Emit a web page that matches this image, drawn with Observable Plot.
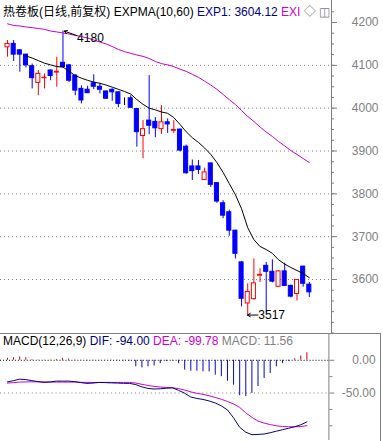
<!DOCTYPE html>
<html><head><meta charset="utf-8">
<script src="https://cdn.jsdelivr.net/npm/d3@7"></script>
<script src="https://cdn.jsdelivr.net/npm/@observablehq/plot@0.6"></script>
<style>
html,body{margin:0;padding:0;background:#fff;}
#wrap{position:relative;width:383px;height:441px;overflow:hidden;font-family:"Liberation Sans",Arial,"Noto Sans CJK SC",sans-serif;}
.hdr{position:absolute;left:3px;font-size:12px;line-height:14px;white-space:nowrap;color:#000;}
#main{position:absolute;left:0;top:0;}
#macd{position:absolute;left:0;top:333px;width:380px;height:107px;border-top:1px solid #808080;border-right:1px solid #808080;overflow:hidden;}
svg{display:block;}
</style></head><body>
<div id="wrap">
  <div id="main"></div>
  <div id="macd"></div>
  <div class="hdr" style="top:5px">热卷板(日线,前复权) EXPMA(10,60) <span style="color:#000080">EXP1: 3604.12</span> <span style="color:#cc00cc">EXI</span> <span style="color:#808080">◇</span> <span style="color:#808080">◫</span></div>
  <div class="hdr" style="top:334px">MACD(12,26,9) <span style="color:#000080">DIF: -94.00</span> <span style="color:#cc00cc">DEA: -99.78</span> <span style="color:#808080">MACD: 11.56</span></div>
</div>
<script>
// ---- data ----
const opens  = [4142,4150,4135,4125,4098,4059,4070,4088,4083,4106,4100,4076,4045,4043,4058,4050,4039,4043,4037,4014,4023,3998,3935,3971,3968,3951,3967,3947,3950,3910,3864,3864,3832,3871,3825,3778,3757,3714,3640,3544,3554,3609,3632,3618,3583,3619,3585,3566,3630,3588];
const highs  = [4158,4158,4137,4126,4103,4088,4080,4089,4119,4180,4101,4078,4052,4051,4078,4058,4040,4045,4038,4024,4029,3999,3971,4076,3978,4006,3975,3971,3951,3914,3879,3878,3860,3872,3826,3784,3762,3715,3642,3590,3648,3625,3640,3646,3621,3638,3587,3600,3631,3593];
const lows   = [4119,4109,4084,4094,4045,4029,4045,4064,4049,4094,4060,4029,4010,4034,4043,4033,4021,4016,4001,4006,4000,3909,3882,3938,3931,3939,3941,3941,3898,3846,3831,3845,3831,3815,3778,3742,3701,3648,3536,3517,3552,3593,3522,3592,3582,3584,3557,3550,3582,3558];
const closes = [4150,4125,4125,4100,4070,4080,4071,4075,4085,4096,4064,4041,4018,4035,4050,4043,4022,4037,4010,4014,4001,3944,3951,3959,3953,3967,3962,3949,3901,3848,3853,3856,3850,3821,3782,3749,3714,3660,3555,3571,3591,3611,3618,3595,3619,3585,3560,3599,3590,3570];
const exp1 = [null,null,null,4122,4117,4111,4105,4101,4097,4096,4086,4076,4070,4065,4061,4058,4054,4049,4044,4039,4033,4020,4009,4000,3996,3991,3988,3978,3962,3945,3931,3920,3907,3892,3873,3850,3824,3798,3765,3721,3693,3677,3670,3661,3646,3636,3628,3621,3614,3604.12];
const exp2 = [4197,4193,4192,4189.5,4188,4186,4184,4180,4178,4175.5,4173,4170,4167,4164,4159,4154.5,4150,4144,4137,4132,4128,4124,4121,4116,4109,4104,4101,4097,4091,4086,4079,4072,4063,4054,4044,4032,4020,4008.5,3994.5,3980.5,3969,3956,3944,3934,3922,3912,3901,3892,3882.5,3873];
const dif = [-32.9,-31.1,-28.8,-29.5,-31.1,-32.6,-33.8,-33,-31.8,-31.8,-31.8,-32.6,-34.1,-35.3,-34.8,-33.8,-34.1,-34.5,-34.8,-35.2,-35.3,-37.1,-40.6,-43,-43.9,-43.5,-42.7,-42.1,-45.9,-50.3,-56.1,-58.3,-59.8,-62.1,-65.2,-69.7,-75.8,-87.9,-102.3,-109.8,-113.6,-113.2,-112.6,-110.6,-108.3,-106.1,-103.8,-101.5,-98.5,-94.0];
const dea = [-34.8,-34.1,-33.3,-33,-32.9,-32.9,-33,-33.3,-33.3,-33.3,-33.3,-33.3,-33.6,-33.8,-33.8,-33.8,-33.8,-33.8,-33.8,-33.8,-33.8,-34.8,-36.7,-38.5,-39.8,-40.9,-41.5,-42,-43.2,-45.5,-48.2,-50.5,-52,-54.2,-56.8,-59.5,-62.9,-66.7,-72,-80.3,-87.1,-92.9,-95.9,-98.2,-100,-101.1,-101.5,-101.5,-101.2,-99.78];
const macdHist = [3,4,5,4,1,0.5,0.3,0.5,1.5,3,2,0.5,-0.3,-0.5,-0.3,0.2,-0.2,-0.3,-0.5,-0.8,-1,-10,-11.6,-10,-8.6,-5,-2,-1,-5,-15,-16.7,-16.7,-17.7,-17.7,-22.7,-25,-32,-38,-54,-55.5,-50.5,-40,-27.8,-20,-10,-5,-1.5,2.5,6.6,11.56];
const priceTicks = [3600,3700,3800,3900,4000,4100,4200];
const priceGrid = [3600,3700,3800,3900,4000,4100];
const priceMinor = d3.range(3475, 4250, 25);
const macdTicks = [0,-50];
const macdMinor = [-25,-75,-100];
const annoIdx = [9, 39];
const annoVal = [4180, 3517];

// ---- styles ----
const RED = "#ff0000", BLUE = "#0000ff", MAG = "#cc00cc", NAVY = "#000080", GRAY = "#808080";
const N = closes.length;
const idx = d3.range(N);
const candles = idx.map(i => ({i, o: opens[i], h: highs[i], l: lows[i], c: closes[i]}));
const cColor = d => d.c > d.o ? RED : d.c < d.o ? BLUE : "#000";
const xOpt = {domain: [-1.14, 52.6], axis: null};
const font = {fontFamily: "'Liberation Sans', Arial, sans-serif", fontSize: "12px", background: "transparent"};

const annos = annoIdx.map((i, k) => ({i, v: annoVal[k], top: annoVal[k] === highs[i]}));

const main = Plot.plot({
  width: 383, height: 333,
  marginLeft: 0, marginRight: 52, marginTop: 0, marginBottom: 0,
  x: xOpt,
  y: {domain: [3600, 4200], range: [279, 22], axis: null},
  style: font,
  marks: [
    Plot.ruleY(priceGrid, {stroke: GRAY, strokeDasharray: "1,3"}),
    Plot.ruleX(candles, {x: "i", y1: "l", y2: "h", stroke: cColor}),
    Plot.rect(candles, {x1: d => d.i - 0.33, x2: d => d.i + 0.33, y1: "o", y2: "c",
      fill: d => d.c > d.o ? "#fff" : cColor(d), stroke: cColor}),
    Plot.line(idx, {x: i => i, y: i => exp2[i], stroke: MAG, strokeWidth: 1}),
    Plot.line(idx, {x: i => i, y: i => exp1[i], stroke: "#000", strokeWidth: 1}),
    Plot.arrow(annos, {
      x1: d => d.top ? d.i + 2.25 : d.i + 1.65, y1: d => d.top ? d.v - 10.5 : d.v,
      x2: d => d.top ? d.i + 0.2 : d.i - 0.05, y2: d => d.v,
      stroke: "#000", strokeWidth: 1, headLength: 5}),
    Plot.text(annos, {x: d => d.top ? d.i + 2.3 : d.i + 1.72, y: d => d.top ? d.v - 16 : d.v,
      text: d => String(d.v), textAnchor: "start", fill: "#000", fontSize: 12}),
    Plot.axisY({anchor: "right", ticks: priceMinor, tickSize: 2, tickFormat: () => "", stroke: GRAY}),
    Plot.axisY({anchor: "right", ticks: priceTicks, tickSize: 5, tickFormat: () => "", stroke: GRAY}),
    Plot.text(priceTicks, {y: d => d, text: d => String(d), frameAnchor: "right", textAnchor: "end", dx: 47, fill: GRAY, fontSize: 12}),
    Plot.frame({anchor: "right", stroke: GRAY})
  ]
});
document.getElementById("main").append(main);

const macd = Plot.plot({
  width: 383, height: 107,
  marginLeft: 0, marginRight: 52, marginTop: 0, marginBottom: 0,
  x: xOpt,
  y: {domain: [0, -50], range: [26, 59], axis: null},
  style: font,
  marks: [
    Plot.ruleY([0], {stroke: "#000", strokeDasharray: "1,2"}),
    Plot.ruleY([-50], {stroke: GRAY, strokeDasharray: "1,3"}),
    Plot.ruleX(idx, {x: i => i, y1: 0, y2: i => macdHist[i], stroke: i => macdHist[i] > 0 ? "#cc0000" : "#0000cc"}),
    Plot.line(idx, {x: i => i, y: i => dea[i], stroke: MAG, strokeWidth: 1}),
    Plot.line(idx, {x: i => i, y: i => dif[i], stroke: NAVY, strokeWidth: 1}),
    Plot.axisY({anchor: "right", ticks: macdMinor, tickSize: 3, tickFormat: () => "", stroke: GRAY}),
    Plot.axisY({anchor: "right", ticks: macdTicks, tickSize: 5, tickFormat: () => "", stroke: GRAY}),
    Plot.text(macdTicks, {y: d => d, text: d => d.toFixed(2), frameAnchor: "right", textAnchor: "end", dx: 47, fill: GRAY, fontSize: 12}),
    Plot.frame({anchor: "right", stroke: GRAY})
  ]
});
document.getElementById("macd").append(macd);
</script>
</body></html>
